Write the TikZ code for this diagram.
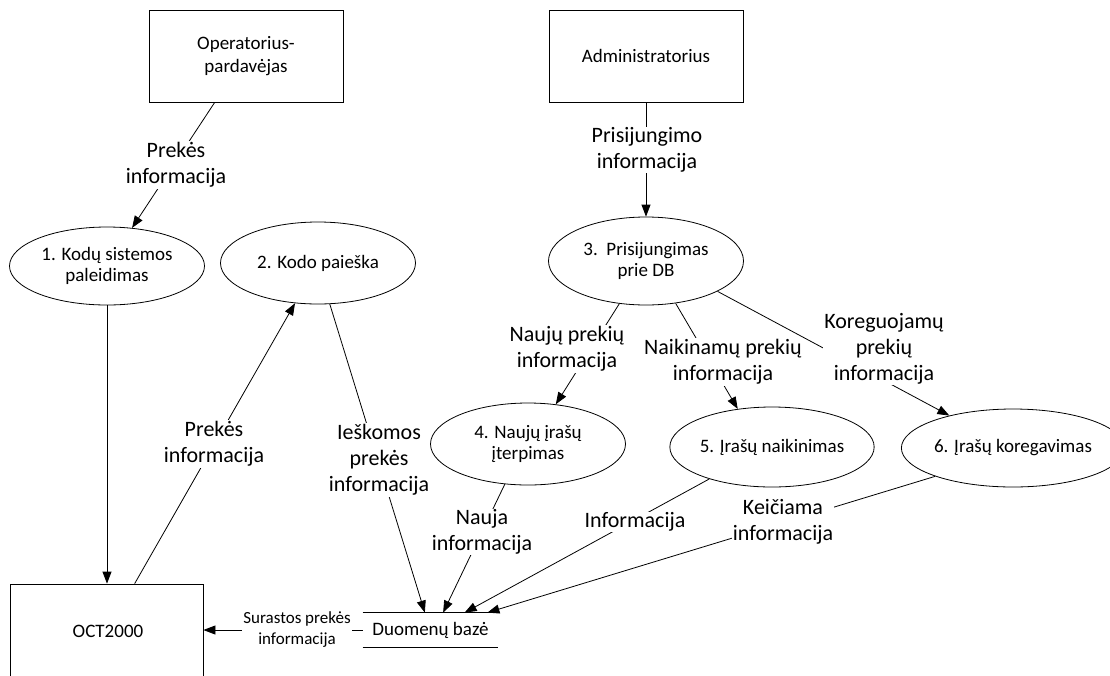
\documentclass[tikz,border=0pt]{standalone}
\usepackage{fontspec}
\setmainfont{Carlito}
\usepackage{tikz}
\usetikzlibrary{shapes.geometric,arrows.meta}

\begin{document}
\begin{tikzpicture}[x=1pt,y=-1pt,line width=0.8pt,
	entity/.style={draw,minimum width=194pt,minimum height=92pt,align=center,font=\fontsize{19}{23}\selectfont},
	proc/.style={draw,ellipse,minimum width=195pt,minimum height=82pt,inner sep=0pt,align=center,font=\fontsize{19}{21}\selectfont},
	lbl/.style={fill=white,inner sep=1pt,align=center,font=\fontsize{22}{26}\selectfont},
	flow/.style={-{Triangle[length=12pt,width=9pt]}}]
	\useasboundingbox (0,0) rectangle (1110,675);
	\clip (0,0) rectangle (1110,675);
	\node[entity] (oper) at (246,56) {Operatorius-\\pardavėjas};
	\node[entity] (admin) at (646,56) {Administratorius};
	\node[entity,minimum width=193pt,minimum height=120pt] (oct) at (106.5,644) {};
	\node[font=\fontsize{19}{21}\selectfont] at (108,631) {OCT2000};
	\node[proc,minimum height=78pt] (e1) at (107,266) {1. Kodų sistemos\\paleidimas};
	\node[proc] (e2) at (318,263) {2. Kodo paieška};
	\node[proc,minimum height=88pt] (e3) at (646,261) {3.~~Prisijungimas\\prie DB};
	\node[proc] (e4) at (528,444) {4. Naujų įrašų\\įterpimas};
	\node[proc,minimum height=80pt] (e5) at (772,447) {5. Įrašų naikinimas};
	\node[proc,minimum width=190pt,minimum height=78pt] (e6) at (1013,448) {6. Įrašų koregavimas};
	\node[minimum width=135pt,minimum height=34pt,font=\fontsize{19}{21}\selectfont] (db) at (430.5,630) {Duomenų bazė};
	\draw (db.north west) -- (db.north east) (db.south west) -- (db.south east);

	\draw[flow] (oper.236) -- (e1);
	\draw[flow] (admin) -- (e3);
	\draw[flow] (e1.south) -- (e1.south |- oct.north);
	\draw[flow] (oct.65) -- (e2);
	\draw[flow] (e2.286) -- (db.108);
	\draw[flow] (e4.240) -- (db.54);
	\draw[flow] (e5.207) -- (db.27);
	\draw[flow] (e6.200) -- (db.17);
	\draw[flow] (e3.238) -- (e4.55);
	\draw[flow] (e3.305) -- (e5.132);
	\draw[flow] (e3.337) -- (e6.153);
	\draw[flow] (db.west) -- (db.west -| oct.east);

	\node[lbl] (l1) at (176,165) {Prekės\\informacija};
	\node[lbl] (l2) at (647,150) {Prisijungimo\\informacija};
	\node[lbl] (l3) at (214,444) {Prekės\\informacija};
	\node[lbl] (l4) at (379,460) {Ieškomos\\prekės\\informacija};
	\node[lbl] (l5) at (482,532) {Nauja\\informacija};
	\node[lbl] (l6) at (635,522) {Informacija};
	\node[lbl] (l7) at (783,522) {Keičiama\\informacija};
	\node[lbl] (l8) at (567,349) {Naujų prekių\\informacija};
	\node[lbl] (l9) at (723,362) {Naikinamų prekių\\informacija};
	\node[lbl] (l10) at (884,349) {Koreguojamų\\prekių\\informacija};
	\node[lbl,font=\fontsize{17}{21}\selectfont] (l11) at (297,630) {Surastos prekės\\informacija};
\end{tikzpicture}
\end{document}
